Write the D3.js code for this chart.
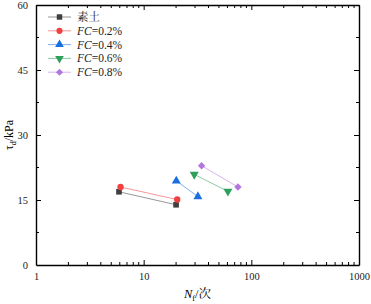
<!DOCTYPE html>
<html>
<head>
<meta charset="utf-8">
<script src="https://cdn.jsdelivr.net/npm/d3@7"></script>
<style>
  body { margin: 0; background: #fff; }
</style>
</head>
<body>
<script>
// series names and values
const seriesNames = ['素土', 'FC=0.2%', 'FC=0.4%', 'FC=0.6%', 'FC=0.8%']
const cycles = [
  [5.9, 20],
  [6.1, 20.5],
  [20.1, 31.9],
  [29.5, 60.6],
  [34.5, 75.1]
]
const stress = [
  [16.9, 13.9],
  [18.0, 15.1],
  [19.4, 15.8],
  [20.9, 17.0],
  [22.9, 18.0]
]
const xTicks = [1, 10, 100, 1000]
const yTicks = [0, 15, 30, 45, 60]

const colors = ['#3f3f3f', '#f14040', '#1a6fdf', '#2fa05c', '#b177de']
const symbols = ['square', 'circle', 'up', 'down', 'diamond']
const SERIF = '"Liberation Serif", "Times New Roman", serif'
const CJK = '"Noto Serif CJK SC", "Liberation Serif", serif'

const width = 371
const height = 304
const margin = { top: 5, right: 12, bottom: 39, left: 36 }

const svg = d3.select('body').append('svg')
  .attr('width', width)
  .attr('height', height)

const x = d3.scaleLog().domain([1, 1000]).range([margin.left, width - margin.right])
const y = d3.scaleLinear().domain([0, 60]).range([height - margin.bottom, margin.top])

const minorX = []
for (let d = 1; d < 1000; d *= 10) {
  for (let k = 2; k <= 9; k++) minorX.push(d * k)
}
const minorY = [7.5, 22.5, 37.5, 52.5]

// bottom and top axes
const xAxis = d3.axisBottom(x).tickValues(xTicks).tickFormat(d3.format('d')).tickSizeInner(-5).tickSizeOuter(0).tickPadding(8)
const gx = svg.append('g').attr('transform', `translate(0,${y(0)})`).call(xAxis)
gx.selectAll('.tick').filter(d => d === 1 || d === 1000).select('line').remove()
gx.selectAll('.minor').data(minorX).enter().append('line')
  .attr('x1', d => x(d)).attr('x2', d => x(d))
  .attr('y1', 0).attr('y2', -3)
  .attr('stroke', '#000')

const gxTop = svg.append('g').attr('transform', `translate(0,${y(60)})`)
  .call(d3.axisTop(x).tickValues(xTicks).tickFormat('').tickSizeInner(-5).tickSizeOuter(0))
gxTop.selectAll('.minor').data(minorX).enter().append('line')
  .attr('x1', d => x(d)).attr('x2', d => x(d))
  .attr('y1', 0).attr('y2', 3)
  .attr('stroke', '#000')

// left and right axes
const yAxis = d3.axisLeft(y).tickValues(yTicks).tickSizeInner(-5).tickSizeOuter(0).tickPadding(8)
const gy = svg.append('g').attr('transform', `translate(${x(1)},0)`).call(yAxis)
gy.selectAll('.tick').filter(d => d === 0 || d === 60).select('line').remove()
gy.selectAll('.minor').data(minorY).enter().append('line')
  .attr('y1', d => y(d)).attr('y2', d => y(d))
  .attr('x1', 0).attr('x2', 3)
  .attr('stroke', '#000')

const gyRight = svg.append('g').attr('transform', `translate(${x(1000)},0)`)
  .call(d3.axisRight(y).tickValues(yTicks).tickFormat('').tickSizeInner(-5).tickSizeOuter(0))
gyRight.selectAll('.minor').data(minorY).enter().append('line')
  .attr('y1', d => y(d)).attr('y2', d => y(d))
  .attr('x1', 0).attr('x2', -3)
  .attr('stroke', '#000')

svg.selectAll('.domain').attr('stroke', '#000').attr('stroke-width', 1.4)
svg.selectAll('.tick text').style('font-size', '10.5px').attr('fill', '#222')
  .style('font-family', SERIF)

// axis titles
const yTitle = svg.append('text')
  .attr('transform', `translate(13,${y(30)}) rotate(-90)`)
  .attr('text-anchor', 'middle')
  .style('font-family', SERIF)
  .style('font-size', '12px')
yTitle.append('tspan').text('τ')
yTitle.append('tspan').style('font-size', '8px').attr('dy', 3).text('d')
yTitle.append('tspan').attr('dy', -3).text('/kPa')

const xTitle = svg.append('text')
  .attr('x', (x(1) + x(1000)) / 2)
  .attr('y', 298)
  .attr('text-anchor', 'middle')
  .style('font-family', SERIF)
  .style('font-size', '12.5px')
xTitle.append('tspan').style('font-style', 'italic').text('N')
xTitle.append('tspan').style('font-size', '8px').attr('dy', 3).text('f')
xTitle.append('tspan').attr('dy', -3).text('/')
xTitle.append('tspan').style('font-family', CJK).text('次')

// marker helper
function marker (g, i, size) {
  const s = symbols[i]
  let type = d3.symbolSquare
  let rot = 0
  let area = size
  if (s === 'circle') type = d3.symbolCircle
  if (s === 'up' || s === 'down') { type = d3.symbolTriangle; area = size * 1.1 }
  if (s === 'down') rot = 180
  if (s === 'diamond') { rot = 45; area = size * 0.85 }
  g.append('path')
    .attr('d', d3.symbol().type(type).size(area)())
    .attr('transform', `rotate(${rot})`)
    .attr('fill', colors[i])
}

const line = d3.line().x(d => x(d[0])).y(d => y(d[1]))

// series
seriesNames.forEach((name, i) => {
  const pts = cycles[i].map((c, j) => [c, stress[i][j]])
  svg.append('path')
    .datum(pts)
    .attr('d', line)
    .attr('fill', 'none')
    .attr('stroke', colors[i])
    .attr('stroke-opacity', 0.55)
    .attr('stroke-width', 1)
  pts.forEach(p => {
    const g = svg.append('g').attr('transform', `translate(${x(p[0])},${y(p[1])})`)
    marker(g, i, 32)
  })
})

// legend
const legend = svg.append('g').attr('transform', 'translate(48,17)')
seriesNames.forEach((name, i) => {
  const row = legend.append('g').attr('transform', `translate(0,${i * 13.8})`)
  row.append('line')
    .attr('x1', 0).attr('x2', 23)
    .attr('stroke', colors[i])
    .attr('stroke-opacity', 0.55)
  const m = row.append('g').attr('transform', 'translate(11.5,0)')
  marker(m, i, 30)
  const t = row.append('text')
    .attr('x', 29).attr('y', 4)
    .style('font-size', '11.5px')
    .style('font-family', SERIF)
    .attr('fill', '#222')
  if (i === 0) {
    t.text(name).style('font-family', CJK)
  } else {
    t.append('tspan').style('font-style', 'italic').text('FC')
    t.append('tspan').text(name.slice(2))
  }
})
</script>
</body>
</html>
